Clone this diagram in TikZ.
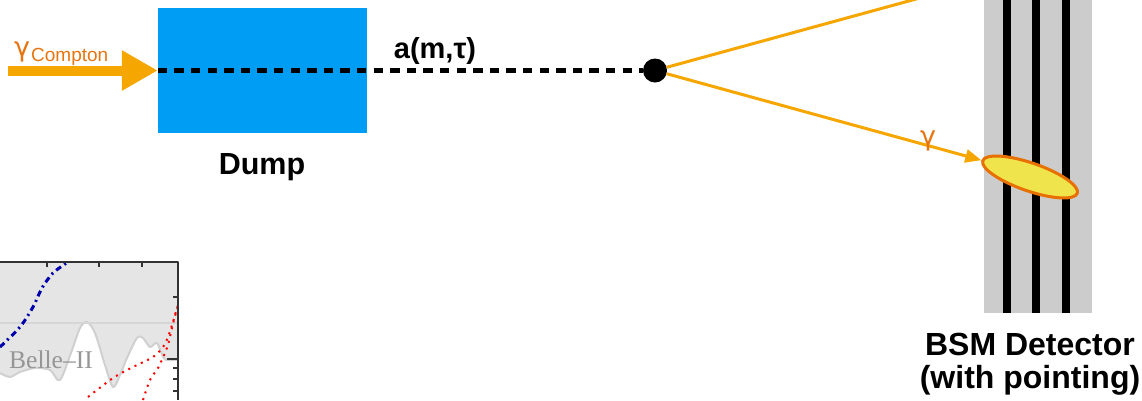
\documentclass[tikz,border=0pt]{standalone}
\usepackage{fontspec}
\setmainfont{Liberation Sans}
\newfontfamily\plotfont{Liberation Serif}
\newfontfamily\greekfont{DejaVu Sans}
\usetikzlibrary{arrows.meta,shapes.geometric}

\definecolor{dumpblue}{RGB}{0,157,245}
\definecolor{beamorange}{RGB}{245,166,0}
\definecolor{labelorange}{RGB}{232,116,16}
\definecolor{spotyellow}{RGB}{240,228,76}
\definecolor{spotedge}{RGB}{232,112,0}
\definecolor{detgray}{RGB}{204,204,204}
\definecolor{plotgray}{RGB}{229,229,229}
\definecolor{plotedge}{RGB}{208,208,208}
\definecolor{plotline}{RGB}{214,214,214}
\definecolor{bellegray}{RGB}{150,150,150}
\definecolor{curveblue}{RGB}{0,0,170}
\definecolor{framegray}{RGB}{50,50,50}

\begin{document}
\begin{tikzpicture}[x=1pt, y=-1pt, line join=round, >={Triangle[length=16pt,width=13pt]},
    lbl/.style={font=\fontsize{#1}{#1}\selectfont\bfseries, inner sep=0, anchor=base},
    glbl/.style={font=\greekfont\fontsize{27}{27}\selectfont, text=labelorange, inner sep=0, anchor=base},
    beam/.style={beamorange, line width=3pt}]
    \useasboundingbox (0,0) rectangle (1142,400);
    \clip (0,0) rectangle (1142,400);

    % 1. 靶 (Dump) 与入射光子
    \node[fill=dumpblue, minimum width=209pt, minimum height=125pt, inner sep=0] (dump) at (262.5,70.5) {};
    \node[lbl=30.5] (dumplbl) at (262,174) {Dump};
    \coordinate (gsrc) at (8,70.5);
    \draw[beamorange, line width=10pt, -{Triangle[length=36pt,width=38pt]}] (gsrc) -- (dump.west);
    \node[glbl] (gin) at (22,56) {γ};
    \node[font=\fontsize{19}{19}\selectfont, text=labelorange, inner sep=0, anchor=base west] (gintxt) at (31,61) {Compton};

    % 2. 轴子 a 的飞行与衰变点
    \node[circle, fill=black, minimum size=24pt, inner sep=0] (decay) at (655,70.5) {};
    \draw[line width=4.5pt, dash pattern=on 9.3pt off 7.3pt] (dump.west) -- (decay);
    \node[lbl=29] (alabel) at (435,58) {a(m,τ)};

    % 3. 探测器 (灰色底板 + 三层黑色探测面)
    \node[fill=detgray, minimum width=108pt, minimum height=340pt, inner sep=0] (det) at (1038,143) {};
    \foreach \bx in {1007,1036,1066}
        \fill[black] (\bx-4,-30) rectangle (\bx+4,313);
    \node[lbl=32] (detlbl) at (1030,355) {BSM Detector};
    \node[lbl=32] (detlbl2) at (1030,388) {(with pointing)};

    % 4. 衰变光子与探测器上的击中点
    \node[ellipse, draw=spotedge, line width=3pt, fill=spotyellow, minimum width=100pt, minimum height=28pt, inner sep=0, rotate=-19] (spot) at (1030,177) {};
    \coordinate (upend) at (1000,-24);
    \draw[beam] (decay) -- (upend);
    \draw[beam, ->] (decay) -- (spot.west);
    \node[glbl] (gout) at (928,145) {γ};

    % 5. 左下角的图 (只露出一部分)
    \fill[plotgray] (0,262) -- (178,262) -- (178,360) -- plot[smooth] coordinates {(167,360) (163,357) (157,343) (150,347) (143,338) (137,338) (127,358) (120,375) (113,387) (105,365) (95,333) (87,322) (80,328) (72,350) (60,380) (50,370) (35,368) (20,372) (10,377) (0,373)} -- cycle;
    \draw[plotedge, line width=2pt] plot[smooth] coordinates {(178,360) (167,360) (163,357) (157,343) (150,347) (143,338) (137,338) (127,358) (120,375) (113,387) (105,365) (95,333) (87,322) (80,328) (72,350) (60,380) (50,370) (35,368) (20,372) (10,377) (0,373)};
    \draw[plotline, line width=1.5pt] (0,323) -- (178,323);
    \node[font=\plotfont\fontsize{25.5}{25.5}\selectfont, text=bellegray, inner sep=0, anchor=base west] (belle) at (9,368) {Belle–II};
    \draw[curveblue, line width=3pt, dash pattern=on 6pt off 4pt on 2pt off 4pt] plot[smooth] coordinates {(0,347) (20,327) (33,307) (42,288) (53,273) (68,262)};
    \draw[red, line width=2pt, dash pattern=on 2pt off 5pt] plot[smooth] coordinates {(88,397) (113,378) (133,367) (153,357) (163,347) (168,337) (172,325) (175,315) (178,305)};
    \draw[red, line width=2pt, dash pattern=on 2pt off 5pt] plot[smooth] coordinates {(143,400) (150,380) (158,368) (165,353) (168,345) (172,328) (175,316) (178,306)};
    \draw[framegray, line width=1.5pt] (0,262) -- (178,262) -- (178,400);
    \foreach \tx in {47,99,142}
        \draw[framegray, line width=1.5pt] (\tx,262) -- (\tx,267);
    \foreach \ty/\tl in {297/5,359/11,368/5,379/5,391/5}
        \draw[framegray, line width=1.5pt] (178,\ty) -- (178-\tl,\ty);
\end{tikzpicture}
\end{document}
